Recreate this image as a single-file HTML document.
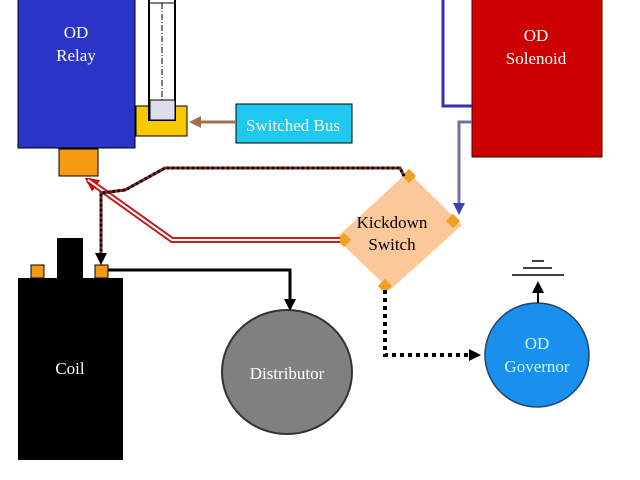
<!DOCTYPE html>
<html><head><style>body{margin:0;background:#fff}svg{display:block}text{font-family:"Liberation Serif",serif}</style></head><body>
<svg width="640" height="480" viewBox="0 0 640 480">
<defs>
<marker id="ab" markerWidth="8" markerHeight="8" refX="6" refY="4" orient="auto" markerUnits="userSpaceOnUse"><path d="M0,0L8,4L0,8z" fill="#000"/></marker>
<marker id="ar" markerWidth="14" markerHeight="14" refX="10" refY="7" orient="auto" markerUnits="userSpaceOnUse"><path d="M0,0L14,7L0,14z" fill="#d00"/></marker>
<marker id="ap" markerWidth="12" markerHeight="12" refX="9" refY="6" orient="auto" markerUnits="userSpaceOnUse"><path d="M0,0L12,6L0,12z" fill="#4040b0"/></marker>
<marker id="abr" markerWidth="12" markerHeight="12" refX="9" refY="6" orient="auto" markerUnits="userSpaceOnUse"><path d="M0,0L12,6L0,12z" fill="#a07050"/></marker>
<marker id="abk" markerWidth="12" markerHeight="12" refX="9" refY="6" orient="auto" markerUnits="userSpaceOnUse"><path d="M0,0L12,6L0,12z" fill="#000"/></marker>
</defs>
<!-- OD relay -->
<rect x="18" y="-2" width="117" height="150" fill="#2a35c8" stroke="#000"/>
<text x="76" y="38" fill="#fff" font-size="17" text-anchor="middle">OD</text>
<text x="76" y="61" fill="#fff" font-size="17" text-anchor="middle">Relay</text>
<rect x="59" y="149" width="39" height="27" fill="#f39a10" stroke="#000"/>
<!-- fuse -->
<rect x="136" y="106" width="51" height="30" fill="#f8c800" stroke="#000"/>
<rect x="149" y="-2" width="26" height="122" fill="#fff" stroke="#000" stroke-width="2"/>
<line x1="162" y1="3" x2="162" y2="100" stroke="#000" stroke-dasharray="6,2,1,2"/>
<rect x="150" y="100" width="25" height="20" fill="#dde" stroke="#000"/>
<line x1="149" y1="3" x2="175" y2="3" stroke="#000"/>
<rect x="236" y="104" width="116" height="39" fill="#1ec8ee" stroke="#000"/>
<text x="293" y="131" fill="#fff" font-size="17" text-anchor="middle">Switched Bus</text>
<line x1="236" y1="122" x2="192" y2="122" stroke="#a07050" stroke-width="3" marker-end="url(#abr)"/>
<!-- solenoid -->
<rect x="472" y="-2" width="130" height="159" fill="#cc0000" stroke="#400"/>
<text x="536" y="41" fill="#fff" font-size="17" text-anchor="middle">OD</text>
<text x="536" y="64" fill="#fff" font-size="17" text-anchor="middle">Solenoid</text>
<polyline points="443,0 443,106 472,106" fill="none" stroke="#3030b0" stroke-width="3"/>
<polyline points="472,122 459,122 459,212" fill="none" stroke="#7070a0" stroke-width="3" marker-end="url(#ap)"/>
<!-- diamond -->
<polygon points="408,172 462,225 390,290 336,238" fill="#fcc89a"/>
<text x="392" y="228" fill="#000" font-size="17" text-anchor="middle">Kickdown</text>
<text x="392" y="250" fill="#000" font-size="17" text-anchor="middle">Switch</text>
<g fill="#f0a020"><rect x="404" y="171" width="10" height="10" transform="rotate(45 409 176)"/><rect x="448" y="216" width="10" height="10" transform="rotate(45 453 221)"/><rect x="339" y="235" width="10" height="10" transform="rotate(45 344 240)"/><rect x="380" y="281" width="10" height="10" transform="rotate(45 385 286)"/></g>
<!-- red double -->
<polyline points="340,240 172,240 88,180" fill="none" stroke="#c02020" stroke-width="6" marker-end="url(#ar)"/>
<polyline points="340,240 172,240 88,180" fill="none" stroke="#fff" stroke-width="2"/>
<!-- dotted brown -->
<polyline points="404,176 400,168 165,168 125,190 101,193 101,262" fill="none" stroke="#802020" stroke-width="3"/>
<polyline points="404,176 400,168 165,168 125,190 101,193 101,262" fill="none" stroke="#000" stroke-width="3" stroke-dasharray="2,3" marker-end="url(#abk)"/>
<!-- coil -->
<rect x="57" y="238" width="26" height="42" fill="#000"/>
<rect x="18" y="278" width="105" height="182" fill="#000"/>
<rect x="31" y="265" width="13" height="13" fill="#f39a10" stroke="#000"/>
<rect x="95" y="265" width="13" height="13" fill="#f39a10" stroke="#000"/>
<text x="70" y="374" fill="#fff" font-size="17" text-anchor="middle">Coil</text>
<polyline points="108,270 290,270 290,308" fill="none" stroke="#000" stroke-width="3" marker-end="url(#abk)"/>
<ellipse cx="287" cy="372" rx="65" ry="62" fill="#808080" stroke="#333" stroke-width="2"/>
<text x="287" y="379" fill="#fff" font-size="17" text-anchor="middle">Distributor</text>
<!-- governor -->
<polyline points="385,290 385,355 478,355" fill="none" stroke="#000" stroke-width="4" stroke-dasharray="4,4" marker-end="url(#abk)"/>
<circle cx="537" cy="355" r="52" fill="#1a90ee" stroke="#246" stroke-width="1.5"/>
<text x="537" y="349" fill="#cff" font-size="17" text-anchor="middle">OD</text>
<text x="537" y="372" fill="#cff" font-size="17" text-anchor="middle">Governor</text>
<line x1="538" y1="303" x2="538" y2="284" stroke="#000" stroke-width="2" marker-end="url(#abk)"/>
<line x1="512" y1="275" x2="564" y2="275" stroke="#000" stroke-width="1.5"/>
<line x1="523" y1="268" x2="552" y2="268" stroke="#000" stroke-width="1.5"/>
<line x1="532" y1="261" x2="544" y2="261" stroke="#000" stroke-width="1.5"/>
</svg>
</body></html>
